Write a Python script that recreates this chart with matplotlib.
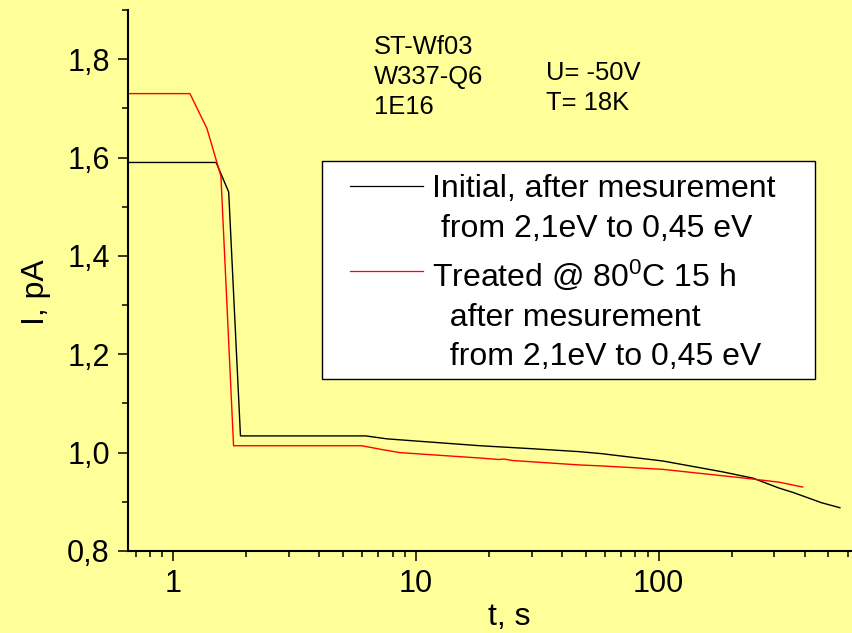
import matplotlib
matplotlib.use('Agg')
import matplotlib.pyplot as plt
from matplotlib.patches import Rectangle
from matplotlib.lines import Line2D
from matplotlib.ticker import FixedLocator, NullFormatter, LogLocator

# ---------------- data ----------------
t_initial = [0.65, 1.50, 1.69, 1.89, 6.2, 7.6, 10.4, 18.4, 30, 47, 58, 104, 183, 245, 313, 358, 470, 558]
i_initial = [1.590, 1.590, 1.530, 1.034, 1.034, 1.028, 1.023, 1.014, 1.008, 1.002, 0.998, 0.983, 0.961,
             0.948, 0.928, 0.919, 0.898, 0.888]

t_treated = [0.65, 1.17, 1.375, 1.57, 1.77, 5.97, 7.3, 8.6, 18.4, 22, 23, 25, 47, 58, 104, 228, 313, 392]
i_treated = [1.730, 1.730, 1.659, 1.562, 1.014, 1.014, 1.006, 1.000, 0.989, 0.986, 0.987, 0.984, 0.975,
             0.973, 0.966, 0.948, 0.940, 0.930]

x_ticks = [1, 10, 100]
x_tick_labels = ['1', '10', '100']
y_ticks = [0.8, 1.0, 1.2, 1.4, 1.6, 1.8]
y_tick_labels = ['0,8', '1,0', '1,2', '1,4', '1,6', '1,8']
y_minor = [0.9, 1.1, 1.3, 1.5, 1.7, 1.9]

legend_lines = ['Initial, after mesurement', ' from 2,1eV to 0,45 eV',
                'Treated @ 80$^{\\mathregular{0}}$C 15 h', '  after mesurement', '  from 2,1eV to 0,45 eV']
sample_info = ['ST-Wf03', 'W337-Q6', '1E16']
cond_info = ['U= -50V', 'T= 18K']
x_label = 't, s'
y_label = 'I, pA'

# ---------------- style ----------------
plt.rcParams['font.family'] = ['Liberation Sans', 'DejaVu Sans']
plt.rcParams['mathtext.fontset'] = 'custom'
plt.rcParams['mathtext.rm'] = 'Liberation Sans'
plt.rcParams['mathtext.it'] = 'Liberation Sans:italic'

BG = '#FFFF99'
W, H = 852, 633


def fx(px):
    return px / W


def fy(py):
    return 1 - py / H


fig = plt.figure(figsize=(W / 100, H / 100), dpi=100, facecolor=BG)
ax = fig.add_axes([fx(127.5), fy(551), (852 - 127.5) / W, (551 - 10) / H])
ax.set_facecolor(BG)

ax.plot(t_initial, i_initial, color='black', lw=1.0)
ax.plot(t_treated, i_treated, color='#FF0000', lw=1.0)

ax.set_xscale('log')
ax.set_xlim(0.647, 626)
ax.set_ylim(0.8, 1.9)

ax.set_xticks(x_ticks)
ax.set_xticklabels(x_tick_labels)
ax.xaxis.set_minor_locator(LogLocator(base=10, subs=range(2, 10)))
ax.xaxis.set_minor_formatter(NullFormatter())
ax.set_yticks(y_ticks)
ax.set_yticklabels(y_tick_labels)
ax.yaxis.set_minor_locator(FixedLocator(y_minor))

for s in ['top', 'right']:
    ax.spines[s].set_visible(False)
for s in ['left', 'bottom']:
    ax.spines[s].set_linewidth(1.5)

ax.tick_params(which='major', direction='out', length=7.2, width=1.1, labelsize=22, pad=5.5)
ax.tick_params(which='minor', direction='out', length=4.3, width=1.1)

fig.text(fx(36), fy(292), y_label, rotation=90, ha='center', va='center', fontsize=23)
fig.text(fx(509), fy(625), x_label, ha='center', va='baseline', fontsize=23)

# annotations
for s, yb in zip(sample_info, [54, 84, 114]):
    fig.text(fx(374), fy(yb), s, ha='left', va='baseline', fontsize=18.4)
for s, yb in zip(cond_info, [80, 110]):
    fig.text(fx(546), fy(yb), s, ha='left', va='baseline', fontsize=18.4)

# legend box
fig.add_artist(Rectangle((fx(322), fy(379)), (815 - 322) / W, (379 - 161) / H,
                         transform=fig.transFigure, facecolor='white', edgecolor='black', lw=1.0))
fig.add_artist(Line2D([fx(350), fx(423)], [fy(186.5)] * 2, transform=fig.transFigure, color='black', lw=0.9))
fig.add_artist(Line2D([fx(350), fx(423)], [fy(271)] * 2, transform=fig.transFigure, color='#FF0000', lw=0.9))
for s, xl, yb in zip(legend_lines, [432, 432, 432, 432, 432], [197, 237, 286, 326, 365]):
    fig.text(fx(xl), fy(yb), s, ha='left', va='baseline', fontsize=23)

fig.savefig('out.png', dpi=100, facecolor=BG)
